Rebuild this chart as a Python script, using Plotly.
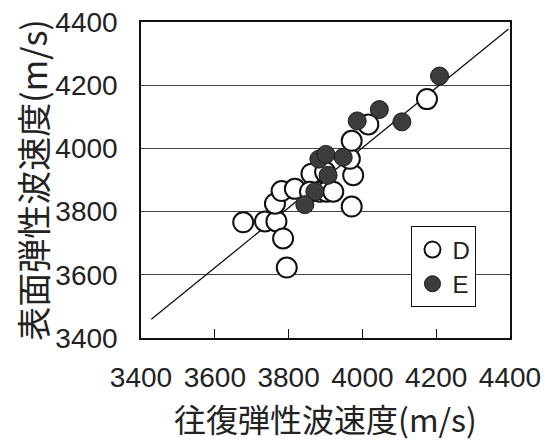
import plotly.graph_objects as go

# Series D (open circles)
d_x = [3677, 3736, 3767, 3785, 3795, 3763, 3781, 3817, 3862, 3899, 3858, 3885, 3903, 3921,
       3971, 3975, 3966, 3971, 4016, 4175]
d_y = [3766, 3769, 3769, 3715, 3623, 3825, 3865, 3872, 3920, 3925, 3863, 3863, 3863, 3863,
       3816, 3915, 3967, 4024, 4076, 4156]

# Series E (filled circles)
e_x = [4209, 4046, 3986, 4107, 3882, 3901, 3948, 3907, 3871, 3844]
e_y = [4229, 4123, 4087, 4084, 3966, 3981, 3972, 3915, 3863, 3822]

# Regression line endpoints
line_x = [3428, 4396]
line_y = [3459, 4378]

tick_vals = [3400, 3600, 3800, 4000, 4200, 4400]
tick_text = ["3400", "3600", "3800", "4000", "4200", "4400"]

x_title = "往復弾性波速度(m/s)"
y_title = "表面弾性波速度(m/s)"

tick_font = dict(family="Liberation Sans, Arial, sans-serif", size=28, color="#222")
x_title_font = dict(family="Noto Sans CJK JP, sans-serif", size=32, color="#222")
y_title_font = dict(family="Noto Sans CJK JP, sans-serif", size=34, color="#222")

fig = go.Figure()
fig.add_trace(go.Scatter(x=line_x, y=line_y, mode="lines",
                         line=dict(color="#111", width=1.3), showlegend=False,
                         hoverinfo="skip"))
fig.add_trace(go.Scatter(x=d_x, y=d_y, mode="markers", name="D",
                         marker=dict(size=20, color="white",
                                     line=dict(color="#111", width=2))))
fig.add_trace(go.Scatter(x=e_x, y=e_y, mode="markers", name="E",
                         marker=dict(size=18, color="#3c3c3c",
                                     line=dict(color="#1a1a1a", width=1))))

fig.update_layout(
    width=545, height=433,
    margin=dict(l=133, r=43, t=14, b=103),
    paper_bgcolor="white", plot_bgcolor="white",
    showlegend=True,
    legend=dict(x=0.733, y=0.353, xanchor="left", yanchor="top",
                bgcolor="white", bordercolor="#111", borderwidth=1,
                font=dict(family="Liberation Sans, Arial, sans-serif", size=24, color="#222"),
                itemwidth=30, tracegroupgap=0),
    xaxis=dict(range=[3400, 4400], tickvals=tick_vals, ticktext=tick_text,
               showgrid=False, zeroline=False, automargin=False,
               showline=True, linecolor="#111", linewidth=1.5, mirror=True,
               ticks="inside", ticklen=9, tickcolor="#111", tickwidth=1,
               tickfont=tick_font, ticklabelstandoff=14, ticklabeloverflow="allow",
               title=dict(text=x_title, font=x_title_font, standoff=18)),
    yaxis=dict(range=[3400, 4400], tickvals=tick_vals, ticktext=tick_text,
               showgrid=True, gridcolor="#444", gridwidth=1, zeroline=False,
               automargin=False,
               showline=True, linecolor="#111", linewidth=1.5, mirror=True,
               ticks="", tickfont=tick_font, ticklabelstandoff=16, ticklabeloverflow="allow",
               title=dict(text=y_title, font=y_title_font, standoff=12)),
)

fig.write_html("out.html")
